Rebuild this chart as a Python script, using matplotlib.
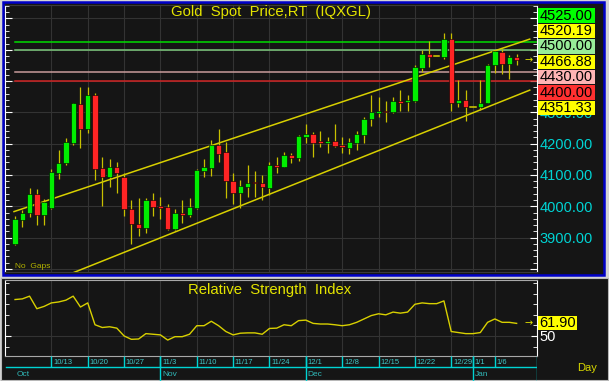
import matplotlib
matplotlib.use("Agg")
import matplotlib.pyplot as plt
from matplotlib.patches import Rectangle
from matplotlib.ticker import MultipleLocator, FixedLocator

plt.rcParams['font.family'] = ['Liberation Sans', 'DejaVu Sans']

# daily candles, Oct 6 .. Jan 9 (index = trading day)
opens = [3881, 3956, 3979, 4039, 3972, 3993, 4107, 4137, 4203, 4327,
         4247, 4356, 4123, 4092, 4125, 4092, 3991, 3944, 3931, 4019,
         4001, 3997, 3926, 3977, 3972, 3994, 4112, 4123, 4196, 4172,
         4082, 4043, 4062, 4077, 4075, 4059, 4133, 4126, 4163, 4153,
         4220, 4230, 4207, 4202, 4207, 4195, 4186, 4203, 4228, 4278,
         4299, 4304, 4300, 4337, 4333, 4337, 4443, 4485, 4481, 4478,
         4534, 4331, 4341, 4316, 4316, 4331, 4451, 4494, 4455, 4478]
highs = [3969, 3988, 4059, 4056, 4022, 4118, 4180, 4217, 4331, 4382,
         4382, 4363, 4158, 4152, 4143, 4105, 4020, 4028, 4025, 4043,
         4030, 4006, 3990, 4020, 4025, 4118, 4150, 4212, 4246, 4206,
         4105, 4084, 4132, 4114, 4100, 4140, 4158, 4172, 4171, 4227,
         4263, 4238, 4241, 4220, 4262, 4220, 4217, 4240, 4284, 4354,
         4350, 4336, 4350, 4373, 4357, 4451, 4499, 4528, 4481, 4552,
         4552, 4403, 4373, 4316, 4403, 4456, 4499, 4501, 4483, 4486]
lows = [3876, 3935, 3967, 3939, 3941, 3990, 4086, 4132, 4196, 4185,
        4233, 4084, 4001, 4062, 4041, 3969, 3881, 3905, 3913, 3969,
        3958, 3924, 3924, 3945, 3967, 3991, 4092, 4096, 4142, 4028,
        4007, 3996, 4030, 4030, 4020, 4036, 4105, 4124, 4139, 4146,
        4203, 4158, 4188, 4171, 4188, 4169, 4166, 4180, 4201, 4256,
        4284, 4270, 4297, 4305, 4305, 4334, 4430, 4446, 4481, 4472,
        4305, 4316, 4273, 4316, 4307, 4329, 4425, 4421, 4405, 4452]
closes = [3958, 3980, 4039, 3972, 4014, 4109, 4139, 4206, 4329, 4247,
          4356, 4119, 4092, 4124, 4106, 3990, 3943, 3932, 4019, 3999,
          3995, 3926, 3977, 3972, 3998, 4116, 4126, 4196, 4167, 4080,
          4043, 4065, 4075, 4073, 4060, 4132, 4127, 4163, 4154, 4224,
          4230, 4203, 4202, 4207, 4192, 4188, 4206, 4231, 4280, 4300,
          4304, 4300, 4337, 4331, 4341, 4444, 4485, 4478, 4481, 4534,
          4331, 4341, 4316, 4316, 4331, 4451, 4495, 4455, 4478, 4467]

rsi = [84.5, 85.1, 87.7, 75.8, 78.0, 81.3, 82.2, 83.9, 87.7, 77.4,
       81.3, 60.6, 58.0, 58.7, 57.4, 50.0, 46.8, 47.1, 52.2, 51.6,
       51.0, 46.1, 49.3, 49.3, 51.6, 59.7, 59.7, 63.9, 59.7, 54.2,
       51.0, 52.6, 52.9, 52.9, 51.6, 57.1, 57.4, 60.6, 59.7, 64.5,
       65.0, 61.9, 61.3, 61.3, 60.6, 59.7, 60.6, 62.9, 66.1, 69.3,
       71.0, 70.0, 72.6, 71.6, 72.6, 80.0, 81.3, 80.6, 80.6, 83.2,
       54.2, 53.2, 52.2, 52.2, 53.2, 62.9, 66.1, 62.9, 62.9, 61.9]
rsi_last = 61.90

week_ticks = [5, 10, 15, 20, 25, 30, 35, 40, 45, 50, 55, 60, 63, 66]
week_labels = ["10/13", "10/20", "10/27", "11/3", "11/10", "11/17", "11/24",
               "12/1", "12/8", "12/15", "12/22", "12/29", "1/1", "1/6"]
month_starts = [0, 20, 40, 63]
month_labels = ["Oct", "Nov", "Dec", "Jan"]

# channel lines (x in trading-day index, y in price)
upper_x, upper_y = [-0.14, 70.8], [3983, 4534]
lower_x, lower_y = [7.98, 70.8], [3787.5, 4371]

levels = [4525, 4500, 4430, 4400]
level_colors = ["#00dd00", "#7cc87c", "#c89c9c", "#d02424"]

tag_texts = ["4525.00", "4520.19", "4500.00", "4466.88", "4430.00", "4400.00", "4351.33"]
tag_colors = ["#00ff00", "#ffff00", "#98ec98", "#ffff00", "#ffb4b4", "#ff3030", "#ffff00"]

W, H = 609, 381
BG = "#151515"
YEL = "#e4e400"
CYAN = "#00d4d4"


def frac(x0, y0, x1, y1):
    return [x0 / W, 1 - y1 / H, (x1 - x0) / W, (y1 - y0) / H]


fig = plt.figure(figsize=(W / 100, H / 100), dpi=100, facecolor="#d4d4d4")

# window frames
fig.add_artist(Rectangle((1 / W, 1 - 380 / H), 607 / W, 102 / H, transform=fig.transFigure,
                         facecolor=BG, edgecolor="#b8b8b8", lw=0.8, zorder=-6))
fig.add_artist(Rectangle((2.5 / W, 1 - 274.5 / H), 601.5 / W, 273 / H, transform=fig.transFigure,
                         facecolor=BG, edgecolor="#0000c8", lw=1.8, zorder=-5))

# ---- price panel ----
ax = fig.add_axes(frac(5, 5, 537, 272))
ax.set_facecolor(BG)
ax.set_xlim(-1.38, 71.8)
ax.set_ylim(3790, 4643)

for lv, c in zip(levels, level_colors):
    ax.plot([0, 71.8], [lv, lv], color=c, lw=1.1, zorder=2)

ax.plot(upper_x, upper_y, color="#d8d000", lw=1.1, zorder=3)
ax.plot(lower_x, lower_y, color="#d8d000", lw=1.1, zorder=3)

idx = list(range(len(opens)))
ax.vlines(idx, lows, highs, color="#c8c000", lw=0.9, zorder=4)
for i, o, c in zip(idx, opens, closes):
    if o == c:
        ax.plot([i - 0.36, i + 0.36], [o, c], color="#d8d000", lw=1.1, zorder=5)
    else:
        col = "#00ee00" if c > o else "#ff2424"
        ax.bar(i, abs(c - o), bottom=min(o, c), width=0.74, color=col,
               edgecolor="black", linewidth=0.4, zorder=5)

ax.text(70.6, closes[-1], "→", color=YEL, fontsize=7, ha="center", va="center",
        family=["DejaVu Sans"], zorder=6)

ax.set_xticks(week_ticks)
ax.yaxis.set_major_locator(MultipleLocator(100))
ax.yaxis.set_minor_locator(MultipleLocator(20))
# labels above 4300 sit under the price tags on the right
ax.yaxis.set_major_formatter(lambda v, p: f"{v:.2f}" if 3850 < v < 4350 else "")
ax.grid(True, color="#333333", lw=0.8, zorder=0)
ax.tick_params(axis="x", length=0, labelbottom=False)
ax.tick_params(axis="y", which="both", left=True, right=True, labelleft=False,
               labelright=True, direction="in", color="white", labelcolor=CYAN,
               labelsize=10.5, pad=2)
ax.tick_params(axis="y", which="major", length=5)
ax.tick_params(axis="y", which="minor", length=3)
for side in ["left", "right"]:
    ax.spines[side].set_color("white")
for side in ["top", "bottom"]:
    ax.spines[side].set_color("#3a3a3a")

ax.text(0.0, 3806, "No  Gaps", color="#b4b400", fontsize=6, ha="left", va="center")

# ---- RSI panel ----
ar = fig.add_axes(frac(5, 280, 537, 356))
ar.set_facecolor(BG)
ar.set_xlim(-1.38, 71.8)
ar.set_ylim(31, 103)
ar.plot(idx, rsi, color="#d8d000", lw=1.0, zorder=3)
ar.text(70.6, rsi_last, "→", color=YEL, fontsize=7, ha="center", va="center",
        family=["DejaVu Sans"], zorder=6)
ar.set_xticks(week_ticks)
ar.yaxis.set_major_locator(FixedLocator([50]))
ar.yaxis.set_minor_locator(MultipleLocator(10))
ar.yaxis.set_major_formatter(lambda v, p: f"{v:.0f}")
ar.grid(True, color="#333333", lw=0.8, zorder=0)
ar.tick_params(axis="x", length=0, labelbottom=False)
ar.tick_params(axis="y", which="both", left=True, right=True, labelleft=False,
               labelright=True, direction="in", color="white", labelcolor="white",
               labelsize=10.5, pad=2)
ar.tick_params(axis="y", which="major", length=4)
ar.tick_params(axis="y", which="minor", length=3)
for side in ["left", "right"]:
    ar.spines[side].set_color("white")
for side in ["top", "bottom"]:
    ar.spines[side].set_color("#a8a8a8")

# ---- date rows ----
ad = fig.add_axes(frac(5, 356, 537, 381))
ad.set_facecolor(BG)
ad.set_xlim(-1.38, 71.8)
ad.set_ylim(0, 1)
ad.axis("off")
ad.plot([-1.3, 71.8], [0.56, 0.56], color=CYAN, lw=1.0)
ad.vlines(week_ticks, 0.56, 1.0, color=CYAN, lw=1.0)
ad.vlines(month_starts[1:] + [71.75], 0.0, 1.0, color=CYAN, lw=1.0)
for t, lab in zip(week_ticks, week_labels):
    ad.text(t + 0.25, 0.76, lab, color="#40c8c8", fontsize=5.5, ha="left", va="center")
for t, lab in zip(month_starts, month_labels):
    ad.text(t + 0.25, 0.27, lab, color="#30b8b8", fontsize=6, ha="left", va="center")

# ---- titles and right-hand tags ----
fig.text(271 / W, 1 - 12 / H, "Gold  Spot  Price,RT  (IQXGL)", color=YEL,
         fontsize=10.7, ha="center", va="center")
fig.text(270 / W, 1 - 290 / H, "Relative  Strength  Index", color=YEL,
         fontsize=10.7, ha="center", va="center")
fig.text(587 / W, 1 - 368 / H, "Day", color="#d8d800", fontsize=8, ha="center", va="center")


def tag(yc, text, color, x0=538, x1=595):
    fig.add_artist(Rectangle((x0 / W, 1 - (yc + 7.2) / H), (x1 - x0) / W, 14.4 / H,
                             transform=fig.transFigure, facecolor=color,
                             edgecolor="none", zorder=5))
    fig.text((x0 + 1.5) / W, 1 - yc / H, text, color="black", fontsize=10.5,
             ha="left", va="center", zorder=6)


for k, (t, c) in enumerate(zip(tag_texts, tag_colors)):
    tag(15.5 + 15.42 * k, t, c)
tag(323, f"{rsi_last:.2f}", "#ffff00", x1=577)

fig.savefig("out.png", dpi=100, facecolor=fig.get_facecolor())
